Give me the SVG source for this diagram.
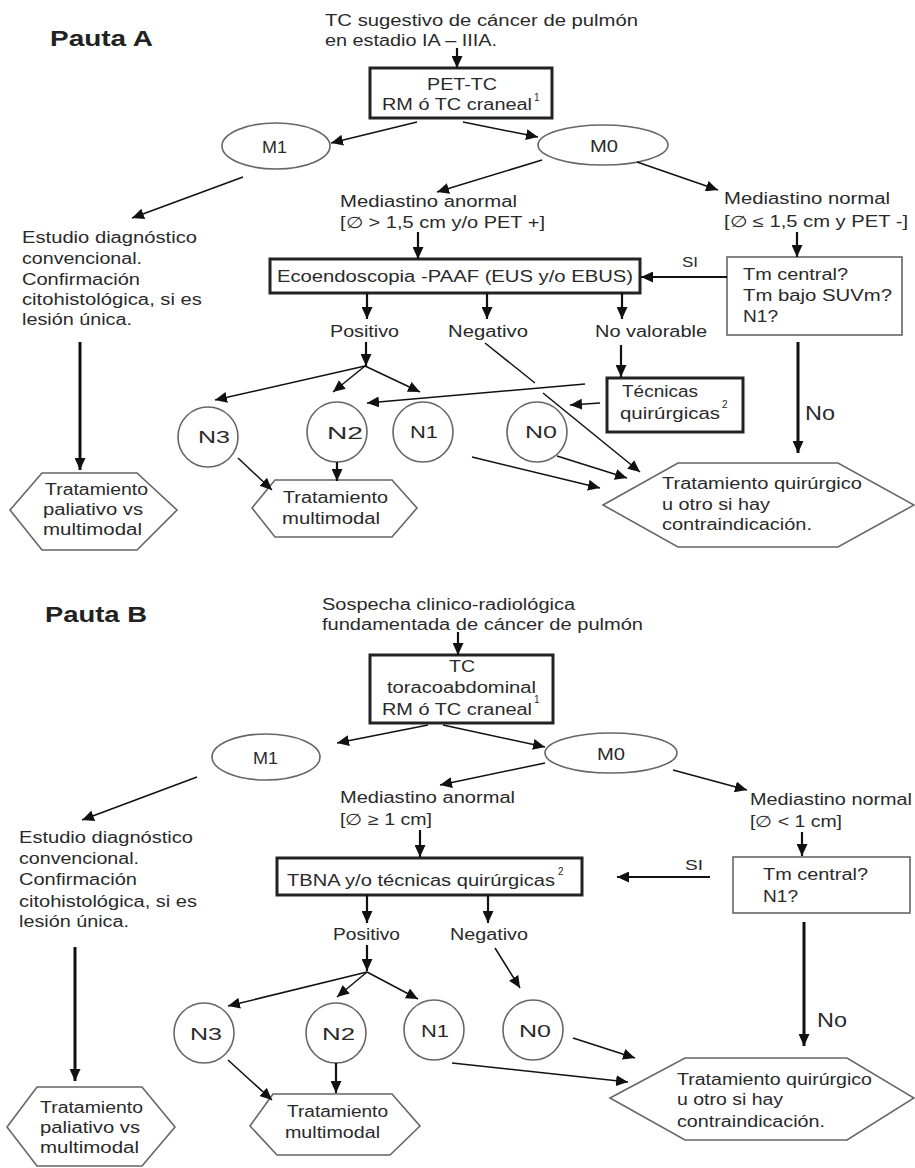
<svg xmlns="http://www.w3.org/2000/svg" width="915" height="1168" viewBox="0 0 915 1168">
<defs>
<marker id="ah" viewBox="0 0 12 11" refX="12" refY="5.5" markerWidth="12" markerHeight="11" markerUnits="userSpaceOnUse" orient="auto"><path d="M0,0 L12,5.5 L0,11 z" fill="#111"/></marker>
<style>
text{font-family:"Liberation Sans",Arial,Helvetica,sans-serif;font-size:16px;fill:#2a2a2a}
.t{font-weight:bold;font-size:22px;fill:#222}
.sup{font-size:10px}
.big{font-size:20px}
.si{font-size:14px}
.thick{fill:#fff;stroke:#222;stroke-width:3}
.thin{fill:#fff;stroke:#666;stroke-width:1.6}
.sh{fill:#fff;stroke:#666;stroke-width:1.6}
.c line{stroke:#111;stroke-width:1.5;fill:none}
.c .a{marker-end:url(#ah)}
.c .w2{stroke-width:2.2}
.c .w3{stroke-width:3}
</style>
</defs>
<rect width="915" height="1168" fill="#fff"/>

<!-- ===== PAUTA A ===== -->
<g id="tituloA"><text class="t" x="50" y="46" textLength="103" lengthAdjust="spacingAndGlyphs">Pauta A</text></g>
<g id="inicioA">
<text x="325" y="26" textLength="313" lengthAdjust="spacingAndGlyphs">TC sugestivo de cáncer de pulmón</text>
<text x="325" y="46" textLength="172" lengthAdjust="spacingAndGlyphs">en estadio IA – IIIA.</text>
</g>
<g id="petA">
<rect class="thick" x="370" y="68" width="182" height="50"/>
<text x="427" y="90" textLength="70" lengthAdjust="spacingAndGlyphs">PET-TC</text>
<text x="382" y="110" textLength="150" lengthAdjust="spacingAndGlyphs">RM ó TC craneal</text>
<text class="sup" x="534" y="101">1</text>
</g>
<g id="m1A"><ellipse class="sh" cx="276" cy="146" rx="54" ry="23"/><text x="262" y="153" textLength="25" lengthAdjust="spacingAndGlyphs">M1</text></g>
<g id="m0A"><ellipse class="sh" cx="603" cy="145" rx="65" ry="20"/><text x="590" y="152" textLength="28" lengthAdjust="spacingAndGlyphs">M0</text></g>
<g id="estudioA">
<text x="22" y="243" textLength="175" lengthAdjust="spacingAndGlyphs">Estudio diagnóstico</text>
<text x="22" y="264" textLength="120" lengthAdjust="spacingAndGlyphs">convencional.</text>
<text x="22" y="285" textLength="118" lengthAdjust="spacingAndGlyphs">Confirmación</text>
<text x="22" y="305" textLength="180" lengthAdjust="spacingAndGlyphs">citohistológica, si es</text>
<text x="22" y="325" textLength="110" lengthAdjust="spacingAndGlyphs">lesión única.</text>
</g>
<g id="medAnormalA">
<text x="340" y="207" textLength="177" lengthAdjust="spacingAndGlyphs">Mediastino anormal</text>
<text x="340" y="228" textLength="205" lengthAdjust="spacingAndGlyphs">[∅ &gt; 1,5 cm y/o PET +]</text>
</g>
<g id="medNormalA">
<text x="724" y="204" textLength="166" lengthAdjust="spacingAndGlyphs">Mediastino normal</text>
<text x="724" y="227" textLength="184" lengthAdjust="spacingAndGlyphs">[∅ ≤ 1,5 cm y PET -]</text>
</g>
<g id="ecoA">
<rect class="thick" x="270" y="259" width="370" height="34"/>
<text x="277" y="282" textLength="356" lengthAdjust="spacingAndGlyphs">Ecoendoscopia -PAAF (EUS y/o EBUS)</text>
</g>
<g id="tmA">
<rect class="thin" x="727" y="257" width="175" height="78"/>
<text x="743" y="280" textLength="105" lengthAdjust="spacingAndGlyphs">Tm central?</text>
<text x="743" y="301" textLength="149" lengthAdjust="spacingAndGlyphs">Tm bajo SUVm?</text>
<text x="743" y="322" textLength="35" lengthAdjust="spacingAndGlyphs">N1?</text>
</g>
<g id="posA"><text x="330" y="337" textLength="69" lengthAdjust="spacingAndGlyphs">Positivo</text></g>
<g id="negA"><text x="448" y="337" textLength="80" lengthAdjust="spacingAndGlyphs">Negativo</text></g>
<g id="novalA"><text x="595" y="337" textLength="112" lengthAdjust="spacingAndGlyphs">No valorable</text></g>
<g id="tecA">
<rect class="thick" x="607" y="378" width="136" height="54"/>
<text x="622" y="397" textLength="76" lengthAdjust="spacingAndGlyphs">Técnicas</text>
<text x="620" y="419" textLength="100" lengthAdjust="spacingAndGlyphs">quirúrgicas</text>
<text class="sup" x="722" y="408">2</text>
</g>
<g id="n3A"><circle class="sh" cx="208" cy="437" r="30"/><text x="198" y="443" textLength="32" lengthAdjust="spacingAndGlyphs">N3</text></g>
<g id="n2A"><circle class="sh" cx="337" cy="432" r="30"/><text x="327" y="439" textLength="36" lengthAdjust="spacingAndGlyphs">N2</text></g>
<g id="n1A"><circle class="sh" cx="423" cy="432" r="30"/><text x="410" y="438" textLength="28" lengthAdjust="spacingAndGlyphs">N1</text></g>
<g id="n0A"><circle class="sh" cx="537" cy="432" r="30"/><text x="525" y="438" textLength="32" lengthAdjust="spacingAndGlyphs">N0</text></g>
<g id="paliativoA">
<polygon class="sh" points="10,510 42,473 137,473 177,510 137,550 42,550"/>
<text x="45" y="495" textLength="103" lengthAdjust="spacingAndGlyphs">Tratamiento</text>
<text x="43" y="515" textLength="100" lengthAdjust="spacingAndGlyphs">paliativo vs</text>
<text x="43" y="535" textLength="99" lengthAdjust="spacingAndGlyphs">multimodal</text>
</g>
<g id="multiA">
<polygon class="sh" points="252,508 275,480 392,480 417,508 392,537 275,537"/>
<text x="283" y="503" textLength="105" lengthAdjust="spacingAndGlyphs">Tratamiento</text>
<text x="282" y="524" textLength="98" lengthAdjust="spacingAndGlyphs">multimodal</text>
</g>
<g id="quirA">
<polygon class="sh" points="603,505 678,463 838,463 914,505 838,547 678,547"/>
<text x="662" y="489" textLength="200" lengthAdjust="spacingAndGlyphs">Tratamiento quirúrgico</text>
<text x="662" y="510" textLength="108" lengthAdjust="spacingAndGlyphs">u otro si hay</text>
<text x="662" y="530" textLength="150" lengthAdjust="spacingAndGlyphs">contraindicación.</text>
</g>
<g id="labelsA">
<text class="si" x="682" y="267" textLength="16" lengthAdjust="spacingAndGlyphs">SI</text>
<text class="big" x="805" y="420" textLength="30" lengthAdjust="spacingAndGlyphs">No</text>
</g>

<!-- ===== PAUTA B ===== -->
<g id="tituloB"><text class="t" x="45" y="622" textLength="102" lengthAdjust="spacingAndGlyphs">Pauta B</text></g>
<g id="inicioB">
<text x="322" y="610" textLength="253" lengthAdjust="spacingAndGlyphs">Sospecha clinico-radiológica</text>
<text x="322" y="630" textLength="321" lengthAdjust="spacingAndGlyphs">fundamentada de cáncer de pulmón</text>
</g>
<g id="tcB">
<rect class="thick" x="370" y="655" width="183" height="68"/>
<text x="449" y="672" textLength="26" lengthAdjust="spacingAndGlyphs">TC</text>
<text x="387" y="693" textLength="149" lengthAdjust="spacingAndGlyphs">toracoabdominal</text>
<text x="382" y="715" textLength="150" lengthAdjust="spacingAndGlyphs">RM ó TC craneal</text>
<text class="sup" x="534" y="703">1</text>
</g>
<g id="m1B"><ellipse class="sh" cx="266" cy="757" rx="54" ry="23"/><text x="253" y="764" textLength="25" lengthAdjust="spacingAndGlyphs">M1</text></g>
<g id="m0B"><ellipse class="sh" cx="611" cy="753" rx="66" ry="20"/><text x="597" y="760" textLength="28" lengthAdjust="spacingAndGlyphs">M0</text></g>
<g id="estudioB">
<text x="19" y="843" textLength="174" lengthAdjust="spacingAndGlyphs">Estudio diagnóstico</text>
<text x="19" y="864" textLength="120" lengthAdjust="spacingAndGlyphs">convencional.</text>
<text x="19" y="885" textLength="118" lengthAdjust="spacingAndGlyphs">Confirmación</text>
<text x="19" y="907" textLength="178" lengthAdjust="spacingAndGlyphs">citohistológica, si es</text>
<text x="19" y="927" textLength="110" lengthAdjust="spacingAndGlyphs">lesión única.</text>
</g>
<g id="medAnormalB">
<text x="340" y="803" textLength="175" lengthAdjust="spacingAndGlyphs">Mediastino anormal</text>
<text x="340" y="825" textLength="92" lengthAdjust="spacingAndGlyphs">[∅ ≥ 1 cm]</text>
</g>
<g id="medNormalB">
<text x="750" y="805" textLength="162" lengthAdjust="spacingAndGlyphs">Mediastino normal</text>
<text x="750" y="827" textLength="92" lengthAdjust="spacingAndGlyphs">[∅ &lt; 1 cm]</text>
</g>
<g id="tbnaB">
<rect class="thick" x="277" y="858" width="305" height="37"/>
<text x="287" y="886" textLength="268" lengthAdjust="spacingAndGlyphs">TBNA y/o técnicas quirúrgicas</text>
<text class="sup" x="558" y="875">2</text>
</g>
<g id="tmB">
<rect class="thin" x="733" y="857" width="177" height="56"/>
<text x="763" y="880" textLength="105" lengthAdjust="spacingAndGlyphs">Tm central?</text>
<text x="763" y="902" textLength="35" lengthAdjust="spacingAndGlyphs">N1?</text>
</g>
<g id="posB"><text x="333" y="940" textLength="67" lengthAdjust="spacingAndGlyphs">Positivo</text></g>
<g id="negB"><text x="450" y="940" textLength="78" lengthAdjust="spacingAndGlyphs">Negativo</text></g>
<g id="n3B"><circle class="sh" cx="204" cy="1033" r="30"/><text x="190" y="1040" textLength="32" lengthAdjust="spacingAndGlyphs">N3</text></g>
<g id="n2B"><circle class="sh" cx="336" cy="1033" r="30"/><text x="322" y="1040" textLength="33" lengthAdjust="spacingAndGlyphs">N2</text></g>
<g id="n1B"><circle class="sh" cx="434" cy="1030" r="30"/><text x="421" y="1037" textLength="28" lengthAdjust="spacingAndGlyphs">N1</text></g>
<g id="n0B"><circle class="sh" cx="533" cy="1030" r="30"/><text x="519" y="1037" textLength="32" lengthAdjust="spacingAndGlyphs">N0</text></g>
<g id="paliativoB">
<polygon class="sh" points="7,1127 37,1087 142,1087 175,1127 142,1166 37,1166"/>
<text x="40" y="1113" textLength="103" lengthAdjust="spacingAndGlyphs">Tratamiento</text>
<text x="40" y="1133" textLength="100" lengthAdjust="spacingAndGlyphs">paliativo vs</text>
<text x="40" y="1153" textLength="99" lengthAdjust="spacingAndGlyphs">multimodal</text>
</g>
<g id="multiB">
<polygon class="sh" points="250,1126 273,1094 392,1094 420,1126 390,1155 277,1155"/>
<text x="287" y="1117" textLength="101" lengthAdjust="spacingAndGlyphs">Tratamiento</text>
<text x="285" y="1138" textLength="95" lengthAdjust="spacingAndGlyphs">multimodal</text>
</g>
<g id="quirB">
<polygon class="sh" points="610,1098 685,1058 847,1058 914,1098 847,1140 685,1140"/>
<text x="677" y="1085" textLength="195" lengthAdjust="spacingAndGlyphs">Tratamiento quirúrgico</text>
<text x="677" y="1105" textLength="106" lengthAdjust="spacingAndGlyphs">u otro si hay</text>
<text x="677" y="1127" textLength="148" lengthAdjust="spacingAndGlyphs">contraindicación.</text>
</g>
<g id="labelsB">
<text class="si" x="685" y="870" textLength="18" lengthAdjust="spacingAndGlyphs">SI</text>
<text class="big" x="817" y="1027" textLength="30" lengthAdjust="spacingAndGlyphs">No</text>
</g>

<!-- ===== CONNECTORS ===== -->
<g id="connectors" class="c">
<!-- A -->
<line class="a w2" x1="457" y1="48" x2="457" y2="68"/>
<line class="a" x1="417" y1="122" x2="331" y2="143"/>
<line class="a" x1="463" y1="122" x2="538" y2="137"/>
<line class="a" x1="243" y1="177" x2="132" y2="218"/>
<line class="a" x1="542" y1="160" x2="437" y2="192"/>
<line class="a" x1="637" y1="162" x2="718" y2="190"/>
<line class="a w2" x1="418" y1="232" x2="418" y2="259"/>
<line class="a w2" x1="797" y1="232" x2="797" y2="257"/>
<line class="a w2" x1="727" y1="277" x2="641" y2="277"/>
<line class="a w2" x1="367" y1="293" x2="367" y2="319"/>
<line class="a w2" x1="487" y1="293" x2="487" y2="319"/>
<line class="a w2" x1="622" y1="293" x2="622" y2="319"/>
<line class="a w2" x1="366" y1="342" x2="366" y2="366"/>
<line class="a" x1="365" y1="366" x2="215" y2="400"/>
<line class="a" x1="365" y1="366" x2="333" y2="392"/>
<line class="a" x1="365" y1="366" x2="420" y2="392"/>
<line x1="485" y1="343" x2="535" y2="383"/>
<line class="a" x1="543" y1="393" x2="640" y2="472"/>
<line class="a w2" x1="621" y1="345" x2="621" y2="377"/>
<line class="a" x1="585" y1="384" x2="367" y2="403"/>
<line class="a" x1="600" y1="403" x2="570" y2="405"/>
<line class="a" x1="238" y1="458" x2="272" y2="490"/>
<line class="a w2" x1="337" y1="462" x2="337" y2="481"/>
<line class="a" x1="472" y1="457" x2="600" y2="488"/>
<line class="a" x1="557" y1="456" x2="627" y2="478"/>
<line class="a w3" x1="80" y1="342" x2="80" y2="470"/>
<line class="a w3" x1="798" y1="342" x2="798" y2="453"/>
<!-- B -->
<line class="a w2" x1="458" y1="632" x2="458" y2="655"/>
<line class="a" x1="428" y1="725" x2="337" y2="743"/>
<line class="a" x1="443" y1="725" x2="545" y2="747"/>
<line class="a" x1="197" y1="777" x2="82" y2="820"/>
<line class="a" x1="545" y1="763" x2="440" y2="785"/>
<line class="a" x1="673" y1="770" x2="747" y2="790"/>
<line class="a w2" x1="420" y1="830" x2="420" y2="857"/>
<line class="a w2" x1="802" y1="832" x2="802" y2="856"/>
<line class="a w2" x1="710" y1="877" x2="617" y2="877"/>
<line class="a w2" x1="367" y1="895" x2="367" y2="923"/>
<line class="a w2" x1="488" y1="895" x2="488" y2="923"/>
<line class="a w2" x1="367" y1="945" x2="367" y2="971"/>
<line class="a" x1="367" y1="972" x2="228" y2="1006"/>
<line class="a" x1="367" y1="972" x2="337" y2="997"/>
<line class="a" x1="367" y1="972" x2="418" y2="999"/>
<line class="a" x1="495" y1="948" x2="520" y2="988"/>
<line class="a" x1="228" y1="1060" x2="272" y2="1100"/>
<line class="a w2" x1="336" y1="1063" x2="336" y2="1093"/>
<line class="a" x1="452" y1="1063" x2="628" y2="1082"/>
<line class="a" x1="573" y1="1038" x2="635" y2="1058"/>
<line class="a w3" x1="75" y1="947" x2="75" y2="1081"/>
<line class="a w3" x1="804" y1="922" x2="804" y2="1046"/>
</g>
</svg>
